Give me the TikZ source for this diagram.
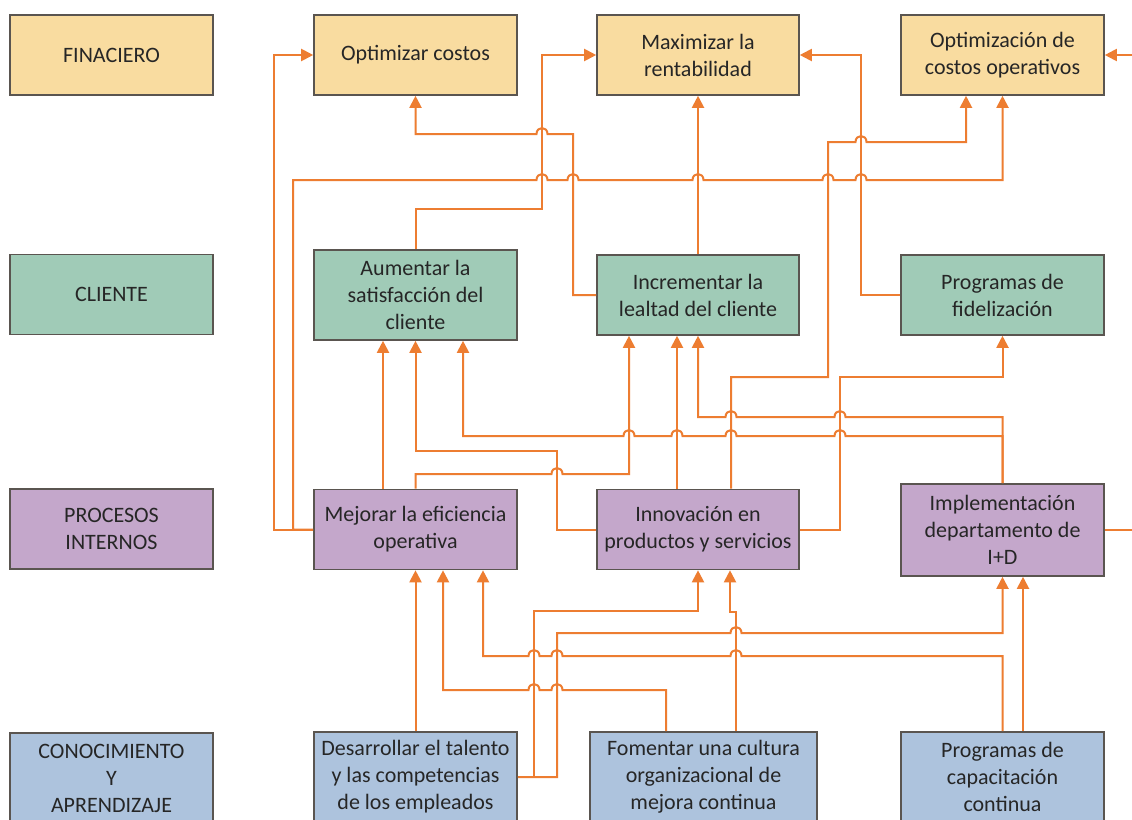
\documentclass[tikz,border=0pt]{standalone}
\usepackage{fontspec}
\setmainfont{Carlito}
\usetikzlibrary{arrows.meta}
\definecolor{yel}{HTML}{F9DCA0}
\definecolor{grn}{HTML}{A0CBB7}
\definecolor{pur}{HTML}{C4A7CB}
\definecolor{blu}{HTML}{ADC3DD}
\definecolor{brd}{HTML}{5A5550}
\definecolor{org}{HTML}{ED7D31}
\definecolor{txt}{HTML}{262626}
\begin{document}
\begin{tikzpicture}[x=1pt,y=-1pt,
 box/.style={draw=brd,line width=1.6pt,inner sep=0pt,align=center,text=txt,
   font=\fontsize{22}{27}\selectfont,minimum width=203pt,minimum height=80pt},
 arr/.style={draw=org,line width=2pt,-{Triangle[length=12pt,width=12pt]}},
 hr/.style 2 args={insert path={-- (#1-5.5,#2) .. controls (#1-5.5,#2-8) and (#1+5.5,#2-8) .. (#1+5.5,#2)}},
 hl/.style 2 args={insert path={-- (#1+5.5,#2) .. controls (#1+5.5,#2-8) and (#1-5.5,#2-8) .. (#1-5.5,#2)}},
]
\useasboundingbox[fill=white] (0,0) rectangle (1132,819);
\clip (0,0) rectangle (1132,819);

% row labels
\node[box,fill=yel] (fin) at (111.5,55) {FINACIERO};
\node[box,fill=grn] (cli) at (111.5,294.5) {CLIENTE};
\node[box,fill=pur] (pro) at (111.5,529) {PROCESOS\\INTERNOS};
\node[box,fill=blu,minimum height=90pt] (con) at (111.5,778) {CONOCIMIENTO\\Y\\APRENDIZAJE};

% financiero
\node[box,fill=yel] (optc) at (415.5,55) {Optimizar costos};
\node[box,fill=yel,minimum width=202pt] (max) at (698,55) {Maximizar la\\rentabilidad};
\node[box,fill=yel] (opto) at (1002.5,55) {Optimización de\\costos operativos};

% cliente
\node[box,fill=grn,minimum height=90pt] (aum) at (415.5,295) {Aumentar la\\satisfacción del\\cliente};
\node[box,fill=grn,minimum width=202pt] (inc) at (698,295) {Incrementar la\\lealtad del cliente};
\node[box,fill=grn] (fid) at (1002.5,295) {Programas de\\fidelización};

% procesos internos
\node[box,fill=pur] (mej) at (415.5,529.5) {Mejorar la eficiencia\\operativa};
\node[box,fill=pur,minimum width=202pt] (inn) at (698,529.5) {Innovación en\\productos y servicios};
\node[box,fill=pur,minimum height=92pt] (imp) at (1002.5,530) {Implementación\\departamento de\\I+D};

% conocimiento
\node[box,fill=blu,minimum height=90pt] (des) at (415.5,777) {Desarrollar el talento\\y las competencias\\de los empleados};
\node[box,fill=blu,minimum height=90pt,minimum width=227pt] (fom) at (703.5,777) {Fomentar una cultura\\organizacional de\\mejora continua};
\node[box,fill=blu,minimum height=90pt] (cap) at (1002.5,777) {Programas de\\capacitación\\continua};

% connectors to financiero
\draw[arr] (mej.west) -- (274,529.5) |- (optc.west);
\draw[arr] (mej.west) -- (293,529.5) -- (293,180) [hr={542}{180}] [hr={573}{180}] [hr={698}{180}] [hr={828}{180}] [hr={861}{180}] -- (1002.5,180) -- (opto.south);
\draw[arr] (inc.west) -- (573,295) -- (573,134) [hl={542}{134}] -- (415.5,134) -- (optc.south);
\draw[arr] (aum.north) -- (415.5,209) -- (542,209) -- (542,55) -- (max.west);
\draw[arr] (inc.north) -- (max.south);
\draw[arr] (fid.west) -- (861,295) -- (861,55) -- (max.east);
\draw[arr] (inn.north -| 731,0) -- (731,377) -- (828,377) -- (828,142) [hr={861}{142}] -- (966,142) -- (opto.south -| 966,0);
\draw[arr] (imp.east) -- (1150,530) -- (1150,55) -- (opto.east);

% connectors to cliente
\draw[arr] (mej.north -| 383,0) -- (aum.south -| 383,0);
\draw[arr] (inn.west) -- (557,529.5) -- (557,451) -- (415.5,451) -- (aum.south);
\draw[arr] (imp.north) -- (1002.5,436) [hl={840}{436}] [hl={731}{436}] [hl={677}{436}] [hl={629}{436}] -- (463,436) -- (aum.south -| 463,0);
\draw[arr] (imp.north) -- (1002.5,417) [hl={840}{417}] [hl={731}{417}] -- (698,417) -- (inc.south);
\draw[arr] (mej.north) -- (415.5,474) [hr={557}{474}] -- (629,474) -- (inc.south -| 629,0);
\draw[arr] (inn.north -| 677,0) -- (inc.south -| 677,0);
\draw[arr] (inn.east) -- (840,529.5) -- (840,377) -- (1002.5,377) -- (fid.south);

% connectors to procesos
\draw[arr] (des.north) -- (mej.south);
\draw[arr] (fom.north -| 666,0) -- (666,690) [hl={557}{690}] [hl={534}{690}] -- (443,690) -- (mej.south -| 443,0);
\draw[arr] (cap.north) -- (1002.5,656) [hl={736}{656}] [hl={557}{656}] [hl={534}{656}] -- (483,656) -- (mej.south -| 483,0);
\draw[arr] (des.east) -- (534,777) -- (534,611) -- (698,611) -- (inn.south);
\draw[arr] (des.east) -- (557,777) -- (557,633) [hr={736}{633}] -- (1002.5,633) -- (imp.south);
\draw[arr] (fom.north -| 736,0) -- (736,612) -- (730,612) -- (inn.south -| 730,0);
\draw[arr] (cap.north -| 1023,0) -- (imp.south -| 1023,0);
\end{tikzpicture}
\end{document}
